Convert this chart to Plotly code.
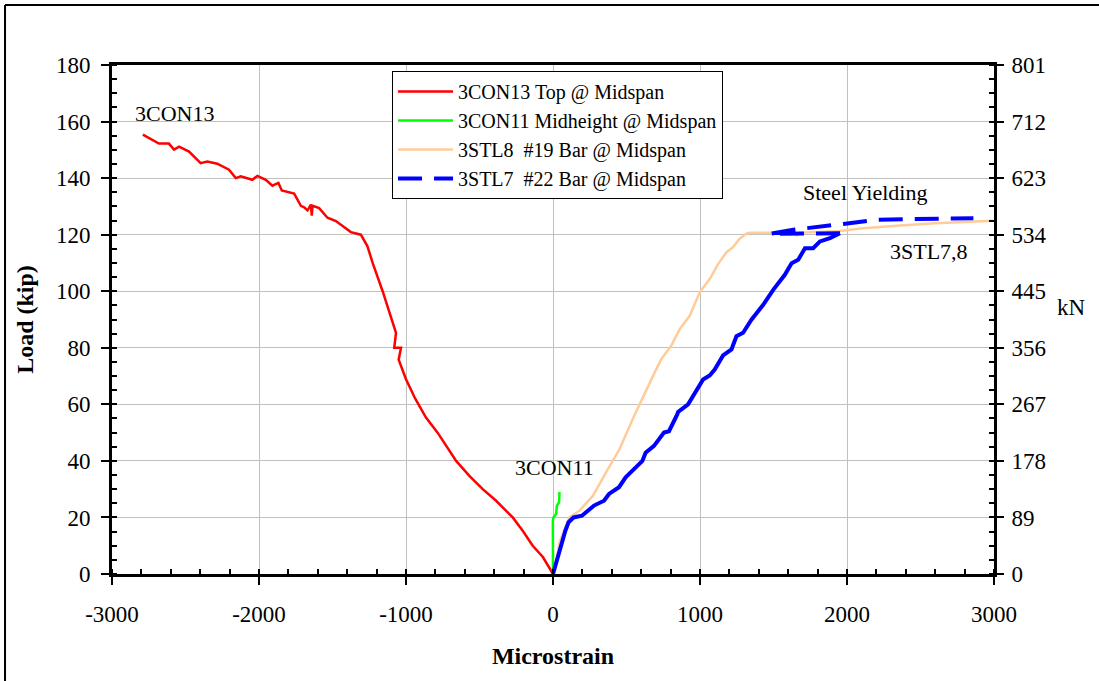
import plotly.graph_objects as go

# Load vs. microstrain at midspan
red_strain = [-2790, -2681, -2613, -2578, -2544, -2476, -2397, -2352, -2284, -2204, -2158,
              -2124, -2045, -2011, -1954, -1909, -1868, -1845, -1761, -1715, -1693, -1670,
              -1647, -1641, -1636, -1591, -1534, -1477, -1375, -1307, -1262, -1227, -1159,
              -1125, -1068, -1080, -1034, -1050, -1000, -937, -864, -785, -728, -659, -569,
              -478, -387, -274, -206, -138, -69, -12, 0]
red_load = [155.4, 152.2, 152.2, 150.1, 151.1, 149.4, 145.3, 145.9, 145.1, 143.0, 140.0,
            140.6, 139.4, 140.8, 139.4, 137.3, 138.3, 135.6, 134.5, 130.2, 129.7, 128.6,
            130.6, 126.7, 130.2, 129.4, 126.0, 124.8, 120.9, 120.0, 115.9, 110.0, 100.0,
            94.7, 85.3, 80.0, 80.0, 75.8, 68.9, 62.0, 55.3, 50.0, 45.3, 40.0, 34.7,
            30.0, 25.9, 20.0, 15.3, 10.0, 6.0, 1.1, 0.0]

green_strain = [0, -1, -1, 3, 12, 21, 26, 35, 41, 43, 44]
green_load = [0.0, 8.0, 18.8, 20.0, 20.5, 21.2, 24.1, 24.8, 25.3, 27.0, 29.0]

orange_strain = [0, 20, 44, 80, 112, 180, 271, 362, 453, 544, 601, 658, 692, 737, 805, 862,
                 930, 998, 1066, 1123, 1180, 1225, 1270, 1316, 1339, 1452, 1634, 1657, 1680,
                 1952, 2089, 2361, 2600, 2996]
orange_load = [0.0, 4.0, 11.2, 16.0, 20.0, 22.4, 27.6, 36.0, 44.2, 55.0, 61.4, 67.8, 71.3,
               76.0, 80.8, 86.6, 91.3, 99.6, 104.3, 109.6, 113.8, 115.6, 118.6, 120.4, 120.7,
               120.7, 120.7, 119.8, 120.7, 121.3, 122.2, 123.2, 124.0, 124.9]

blue_strain = [0, 27, 61, 84, 106, 140, 197, 279, 347, 381, 449, 494, 551, 608, 630, 687,
               755, 789, 846, 851, 919, 976, 1021, 1066, 1100, 1157, 1214, 1248, 1293, 1350,
               1430, 1498, 1555, 1577, 1623, 1668, 1714, 1770, 1816, 1884, 1952]
blue_load = [0.0, 5.3, 11.2, 15.3, 18.3, 20.0, 20.6, 24.2, 25.9, 28.3, 30.7, 34.2, 37.1,
             40.0, 42.9, 45.3, 50.0, 50.5, 56.5, 57.3, 60.0, 64.7, 68.8, 70.2, 72.3, 77.3,
             79.4, 84.1, 85.3, 89.9, 95.2, 100.5, 104.6, 105.8, 109.9, 111.1, 115.2, 115.2,
             117.6, 118.8, 120.5]
# sparse readings after yielding
blue_yield_strain = [1952, 1475, 1645, 1884, 1975, 2201, 2860]
blue_yield_load = [120.5, 120.3, 121.8, 123.5, 123.8, 125.3, 125.8]

strain_ticks = [-3000, -2000, -1000, 0, 1000, 2000, 3000]
strain_labels = ["-3000", "-2000", "-1000", "0", "1000", "2000", "3000"]
kip_ticks = [0, 20, 40, 60, 80, 100, 120, 140, 160, 180]
kn_labels = ["0", "89", "178", "267", "356", "445", "534", "623", "712", "801"]
KIP_TO_KN = 4.448222

FONT = "Liberation Serif"

fig = go.Figure()
fig.add_trace(go.Scatter(x=red_strain, y=red_load, mode="lines", name="3CON13 Top @ Midspan",
                         line=dict(color="#FF0000", width=2.5), legendrank=1))
fig.add_trace(go.Scatter(x=green_strain, y=green_load, mode="lines",
                         name="3CON11 Midheight @ Midspan",
                         line=dict(color="#00FF00", width=2.5), legendrank=2))
fig.add_trace(go.Scatter(x=orange_strain, y=orange_load, mode="lines",
                         name="3STL8  #19 Bar @ Midspan",
                         line=dict(color="#FFCC99", width=2.5), legendrank=3))
fig.add_trace(go.Scatter(x=blue_strain, y=blue_load, mode="lines", showlegend=False,
                         line=dict(color="#0000FF", width=4)))
fig.add_trace(go.Scatter(x=blue_yield_strain, y=blue_yield_load, mode="lines",
                         name="3STL7  #22 Bar @ Midspan",
                         line=dict(color="#0000FF", width=4, dash="24px,12px"), legendrank=4))
# kN scale carrier for the secondary axis
fig.add_trace(go.Scatter(x=[-3000, 3000], y=[0, 180 * KIP_TO_KN], yaxis="y2", mode="lines",
                         line=dict(width=0, color="rgba(0,0,0,0)"), showlegend=False,
                         hoverinfo="skip"))

labels = [
    ("3CON13", -2576, 163.0),
    ("3CON11", 8, 37.8),
    ("Steel Yielding", 2124, 134.8),
    ("3STL7,8", 2560, 114.0),
]
for text, xv, yv in labels:
    fig.add_annotation(x=xv, y=yv, text=text, showarrow=False, xanchor="center",
                       font=dict(family=FONT, size=22, color="black"))

fig.add_annotation(xref="paper", yref="paper", x=1.088, y=0.524, text="kN", showarrow=False,
                   xanchor="center", yanchor="middle",
                   font=dict(family=FONT, size=23, color="black"))

# outer frame (top and left edges)
fig.add_shape(type="line", xref="paper", yref="paper", x0=-0.1213, x1=1.2,
              y0=1.1179, y1=1.1179, line=dict(color="black", width=2))
fig.add_shape(type="line", xref="paper", yref="paper", x0=-0.1213, x1=-0.1213,
              y0=-0.3, y1=1.1179, line=dict(color="black", width=2))

fig.update_layout(
    width=1099, height=681,
    margin=dict(l=112, r=105, t=65, b=107),
    paper_bgcolor="white", plot_bgcolor="white",
    font=dict(family=FONT, color="black"),
    showlegend=True,
    legend=dict(x=0.3175, y=0.988, xanchor="left", yanchor="top",
                bordercolor="black", borderwidth=1, bgcolor="white",
                font=dict(family=FONT, size=20, color="black"),
                itemwidth=55, tracegroupgap=0),
    xaxis=dict(range=[-3000, 3000], tickvals=strain_ticks, ticktext=strain_labels,
               showgrid=True, gridcolor="#C0C0C0", gridwidth=1, zeroline=False,
               showline=True, linecolor="black", linewidth=3, mirror=True,
               ticks="outside", ticklen=8, tickwidth=1.5, tickcolor="black",
               minor=dict(ticks="inside", tick0=-3000, dtick=200, ticklen=5,
                          tickcolor="black", showgrid=False),
               tickfont=dict(family=FONT, size=23, color="black"),
               ticklabelstandoff=9,
               title=dict(text="<b>Microstrain</b>", standoff=22,
                          font=dict(family=FONT, size=24, color="black"))),
    yaxis=dict(range=[0, 180], tickvals=kip_ticks,
               showgrid=True, gridcolor="#C0C0C0", gridwidth=1, zeroline=False,
               showline=True, linecolor="black", linewidth=3,
               ticks="outside", ticklen=8, tickwidth=1.5, tickcolor="black",
               minor=dict(ticks="inside", dtick=5, ticklen=5, tickcolor="black",
                          showgrid=False),
               tickfont=dict(family=FONT, size=23, color="black"),
               ticklabelstandoff=6,
               title=dict(text="<b>Load (kip)</b>", standoff=16,
                          font=dict(family=FONT, size=24, color="black"))),
    yaxis2=dict(overlaying="y", side="right", range=[0, 180 * KIP_TO_KN],
                tickvals=[k * KIP_TO_KN for k in kip_ticks], ticktext=kn_labels,
                showgrid=False, zeroline=False,
                showline=True, linecolor="black", linewidth=3,
                ticks="outside", ticklen=7, tickwidth=1.5, tickcolor="black",
                minor=dict(ticks="inside", tick0=0, dtick=5 * KIP_TO_KN, ticklen=5,
                           tickcolor="black", showgrid=False),
                tickfont=dict(family=FONT, size=23, color="black"),
                ticklabelstandoff=3),
)

fig.write_html("out.html")
